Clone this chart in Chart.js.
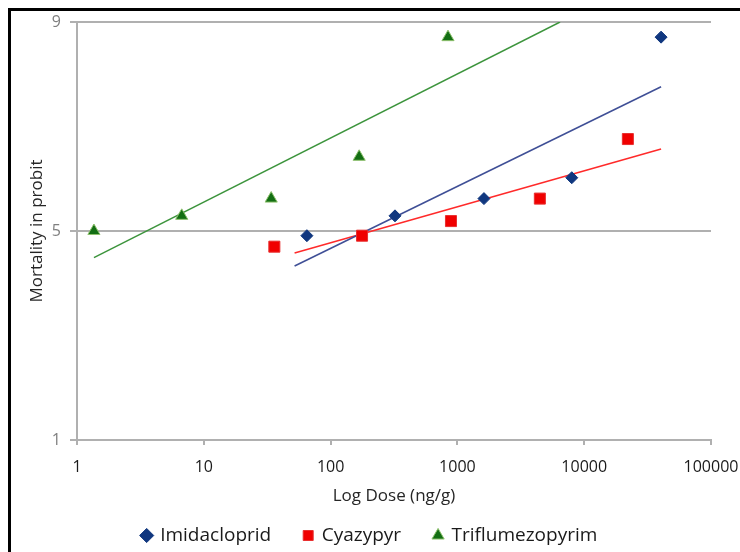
<!DOCTYPE html>
<html>
<head>
<meta charset="utf-8">
<script src="https://cdn.jsdelivr.net/npm/chart.js@4/dist/chart.umd.min.js"></script>
<style>
  html, body { margin: 0; padding: 0; background: #fff; overflow: hidden; }
  #frame { position: absolute; left: 8px; top: 8px; width: 800px; height: 600px; border: 3px solid #000; }
  #chart { position: absolute; left: 0; top: 0; }
</style>
</head>
<body>
<div id="frame"></div>
<canvas id="chart" width="740" height="555"></canvas>
<script>
// dose (ng/g) and mortality (probit)
const seriesNames = ['Imidacloprid', 'Cyazypyr', 'Triflumezopyrim'];

const imidaDose = [65, 322, 1620, 7980, 40400];
const imidaProbit = [4.91, 5.29, 5.62, 6.02, 8.71];

const cyazDose = [36, 177, 890, 4470, 22100];
const cyazProbit = [4.70, 4.91, 5.19, 5.62, 6.76];

const trifDose = [1.36, 6.7, 34, 168, 843];
const trifProbit = [5.0, 5.29, 5.62, 6.42, 8.71];

// trend line ends
const imidaTrendDose = [52, 40400];
const imidaTrendProbit = [4.33, 7.76];
const cyazTrendDose = [52, 40400];
const cyazTrendProbit = [4.58, 6.57];
const trifTrendDose = [1.36, 6450];
const trifTrendProbit = [4.49, 9.0];

const xTicks = [1, 10, 100, 1000, 10000, 100000];
const yTicks = [1, 5, 9];

function pts(xs, ys) {
  return xs.map((x, i) => ({ x: x, y: ys[i] }));
}

const fontName = '"Open Sans", Lato, sans-serif';
const gridGray = '#b0b0b0';

function initChart() {
  const ctx = document.getElementById('chart').getContext('2d');

  new Chart(ctx, {
    type: 'scatter',
    data: {
      datasets: [
        {
          label: seriesNames[0],
          data: pts(imidaDose, imidaProbit),
          pointStyle: 'rectRot',
          pointRadius: 6,
          backgroundColor: '#10377f',
          borderColor: '#10377f',
          borderWidth: 1,
          order: 1
        },
        {
          label: seriesNames[1],
          data: pts(cyazDose, cyazProbit),
          pointStyle: 'rect',
          pointRadius: 7.8,
          backgroundColor: '#f00000',
          borderColor: '#e83030',
          borderWidth: 1,
          order: 1
        },
        {
          label: seriesNames[2],
          data: pts(trifDose, trifProbit),
          pointStyle: 'triangle',
          pointRadius: 7,
          backgroundColor: '#136e13',
          borderColor: '#8cc06c',
          borderWidth: 1,
          order: 1
        },
        // trend lines
        {
          label: 'trend-imida',
          data: pts(imidaTrendDose, imidaTrendProbit),
          showLine: true,
          pointRadius: 0,
          borderColor: '#3f4f96',
          borderWidth: 1.5,
          order: 2
        },
        {
          label: 'trend-cyaz',
          data: pts(cyazTrendDose, cyazTrendProbit),
          showLine: true,
          pointRadius: 0,
          borderColor: '#ff2a2a',
          borderWidth: 1.5,
          order: 2
        },
        {
          label: 'trend-trif',
          data: pts(trifTrendDose, trifTrendProbit),
          showLine: true,
          pointRadius: 0,
          borderColor: '#3c943c',
          borderWidth: 1.5,
          order: 2
        }
      ]
    },
    options: {
      responsive: false,
      animation: false,
      layout: { padding: { top: 22, right: 29, left: 29, bottom: 0 } },
      plugins: {
        tooltip: { enabled: false },
        legend: {
          position: 'bottom',
          labels: {
            usePointStyle: true,
            boxWidth: 8,
            boxHeight: 10,
            padding: 33,
            color: '#1a1a1a',
            font: { family: fontName, size: 19 },
            filter: (item) => seriesNames.includes(item.text)
          }
        }
      },
      scales: {
        x: {
          type: 'logarithmic',
          min: 1,
          max: 100000,
          afterBuildTicks: (scale) => {
            scale.ticks = xTicks.map(v => ({ value: v }));
          },
          afterFit: (scale) => {
            scale.height = 53;
            scale.paddingRight = 0;
            scale.paddingLeft = 0;
          },
          ticks: {
            color: '#1a1a1a',
            font: { family: fontName, size: 16 },
            padding: 13,
            maxRotation: 0,
            callback: (value) => String(value)
          },
          grid: {
            drawOnChartArea: false,
            drawTicks: true,
            tickLength: 5,
            color: gridGray,
            lineWidth: 2
          },
          border: { color: gridGray, width: 2 },
          title: {
            display: true,
            text: 'Log Dose (ng/g)',
            color: '#262626',
            font: { family: fontName, size: 17 },
            padding: { top: 0, bottom: -13 }
          }
        },
        y: {
          min: 1,
          max: 9,
          afterBuildTicks: (scale) => {
            scale.ticks = yTicks.map(v => ({ value: v }));
          },
          afterFit: (scale) => { scale.width = 48; },
          ticks: {
            color: '#7f7f7f',
            font: { family: fontName, size: 16 },
            padding: 9
          },
          grid: {
            color: gridGray,
            lineWidth: 2,
            tickLength: 7
          },
          border: { color: gridGray, width: 2 },
          title: {
            display: true,
            text: 'Mortality in probit',
            color: '#262626',
            font: { family: fontName, size: 17 },
            padding: { top: -2, bottom: 0 }
          }
        }
      }
    }
  });
}
document.addEventListener('DOMContentLoaded', initChart);
</script>
</body>
</html>
